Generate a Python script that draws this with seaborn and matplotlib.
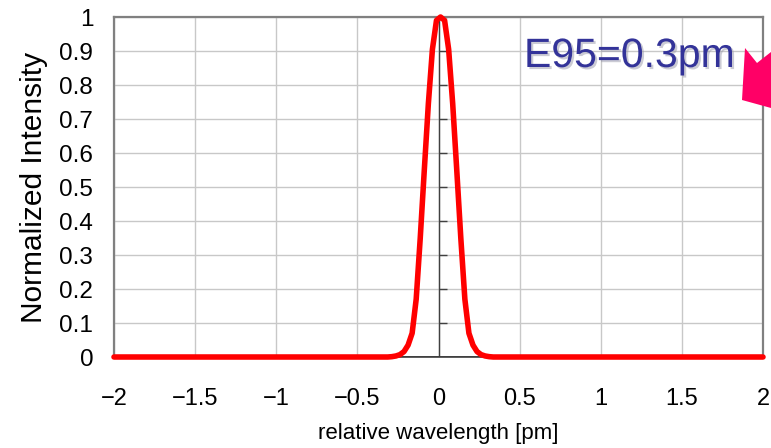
import numpy as np
import pandas as pd
import matplotlib
matplotlib.use("Agg")
import matplotlib.pyplot as plt
import matplotlib.patheffects as pe
from matplotlib.patches import Polygon
import seaborn as sns

# ---- data ----
wavelength = [-2.0, -1.0, -0.5, -0.3375, -0.3125, -0.2875, -0.2625, -0.2375, -0.2125, -0.1875,
              -0.1625, -0.1375, -0.1125, -0.0875, -0.0625, -0.0375, -0.0125, 0.0125,
              0.0375, 0.0625, 0.0875, 0.1125, 0.1375, 0.1625, 0.1875, 0.2125, 0.2375,
              0.2625, 0.2875, 0.3125, 0.3375, 0.5, 1.0, 2.0]
intensity = [0.0, 0.0, 0.0, 0.0, 0.0, 0.001, 0.003, 0.007, 0.016, 0.035,
             0.07, 0.17, 0.35, 0.55, 0.745, 0.905, 0.99, 1.0,
             0.99, 0.905, 0.745, 0.55, 0.35, 0.17, 0.07, 0.035, 0.016,
             0.007, 0.003, 0.001, 0.0, 0.0, 0.0, 0.0]
x_ticks = [-2, -1.5, -1, -0.5, 0, 0.5, 1, 1.5, 2]
x_tick_labels = ["−2", "−1.5", "−1", "−0.5", "0", "0.5", "1", "1.5", "2"]
y_ticks = [0, 0.1, 0.2, 0.3, 0.4, 0.5, 0.6, 0.7, 0.8, 0.9, 1.0]
y_tick_labels = ["0", "0.1", "0.2", "0.3", "0.4", "0.5", "0.6", "0.7", "0.8", "0.9", "1"]
annotation = "E95=0.3pm"

df = pd.DataFrame({"wavelength": wavelength, "intensity": intensity})

sns.set_theme(style="white")
plt.rcParams["font.family"] = ["Liberation Sans", "DejaVu Sans"]
W, H = 771, 448
fig = plt.figure(figsize=(W / 100, H / 100), dpi=100)
ax = fig.add_axes([114 / W, 1 - 357 / H, (763 - 114) / W, (357 - 17) / H])

# grid
for xv in x_ticks:
    ax.axvline(xv, color="#c8c8c8", lw=1.0, zorder=0)
for yv in y_ticks:
    ax.axhline(yv, color="#c8c8c8", lw=1.0, zorder=0)

# zero axis with its ticks
ax.axvline(0, color="#404040", lw=1.0, zorder=1)
ax.hlines(y_ticks[1:], 0, 0.055, color="#404040", lw=1.0, zorder=1)
ax.axhline(0, color="#202020", lw=1.2, zorder=1)

sns.lineplot(data=df, x="wavelength", y="intensity", ax=ax, color="#ff0000",
             lw=4.0, zorder=3, clip_on=False)

ax.set_xlim(-2, 2)
ax.set_ylim(0, 1)
ax.set_xticks(x_ticks)
ax.set_xticklabels(x_tick_labels, fontsize=17, color="black")
ax.set_yticks(y_ticks)
ax.set_yticklabels(y_tick_labels, fontsize=17.5, color="black")
ax.tick_params(axis="x", direction="in", length=5, width=1, color="#404040", pad=22,
               labelsize=17)
ax.tick_params(axis="y", length=0, pad=15, labelsize=17.5)

ax.set_xlabel("relative wavelength [pm]", fontsize=16, color="black", labelpad=10)
ax.set_ylabel("Normalized Intensity", fontsize=21.5, color="black", labelpad=8)

for side in ["left", "top", "right"]:
    ax.spines[side].set_color("#808080")
    ax.spines[side].set_linewidth(1.6)
ax.spines["bottom"].set_color("#404040")
ax.spines["bottom"].set_linewidth(1.2)

# annotation
fig.text(524 / W, 1 - 67 / H, annotation, fontsize=29.5, color="#333399",
         ha="left", va="baseline",
         path_effects=[pe.withSimplePatchShadow(offset=(1.5, -1.5), shadow_rgbFace="#9999aa", alpha=0.5)])

# pink arrow head (cut off at right edge)
pts = [(745, 48), (757, 63), (771, 52), (771, 108), (742, 100)]
fig.patches.append(Polygon([(x / W, 1 - y / H) for x, y in pts], closed=True,
                           transform=fig.transFigure, facecolor="#ff0066",
                           edgecolor="none", zorder=5))

fig.savefig("out.png", dpi=100)
